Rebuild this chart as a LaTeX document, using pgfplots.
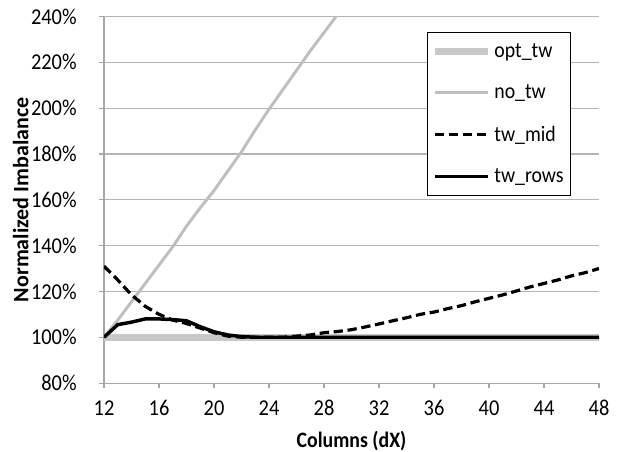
\documentclass[border=0pt]{standalone}
\usepackage{pgfplots}
\pgfplotsset{compat=1.18}
\usepackage{fontspec}
\setmainfont{Carlito}[FakeStretch=0.9]
\newfontfamily\ylabfont{Carlito}
\newcommand{\chartfont}{\fontsize{16.5}{19.8}\selectfont}
\newcommand{\tickfont}{\fontsize{17}{20}\selectfont}
\definecolor{optgray}{HTML}{C8C8C8}
\definecolor{nogray}{HTML}{BEBEBE}
\definecolor{gridgray}{HTML}{B4B4B4}
\definecolor{axgray}{HTML}{A6A6A6}
\begin{document}
\begin{tikzpicture}
\begin{axis}[
  scale only axis,
  width=371.25pt, height=274.9pt,
  xmin=12, xmax=48, ymin=80, ymax=240,
  xtick={12,16,...,48},
  ytick={80,100,...,240},
  axis lines*=left,
  axis line style={axgray, line width=0.8pt},
  tick style={axgray, line width=0.8pt},
  tick align=outside,
  major tick length=4pt,
  ymajorgrids,
  major grid style={gridgray, line width=0.8pt},
  xticklabel={\pgfmathparse{int(\tick)}\pgfmathresult},
  yticklabel={\pgfmathparse{int(\tick)}\pgfmathresult\%},
  tick label style={font=\tickfont},
  yticklabel style={xshift=-13pt},
  xticklabel style={yshift=-5.5pt},
  xlabel={\bfseries Columns (dX)},
  ylabel={\ylabfont\bfseries Normalized Imbalance},
  label style={font=\chartfont},
  xlabel style={yshift=-4.5pt},
  ylabel style={yshift=-5pt},
  legend cell align=left,
  legend style={at={(0.943,0.957)}, anchor=north east, draw=black,
    line width=0.6pt, fill=white, font=\chartfont, row sep=15pt,
    inner xsep=3pt, inner ysep=6pt, nodes={inner xsep=2pt}},
  legend image code/.code={\draw[#1] (0pt,0pt) -- (40pt,0pt);},
]
\addplot[optgray, line width=5.2pt, line cap=butt] coordinates {(12,100) (48,100)};
\addlegendentry{opt\_tw}
\addplot[nogray, line width=2.2pt] coordinates {
(12,100) (13,107.5) (14,115.5) (15,123.5) (16,131.5) (17,139.5) (18,148.5)
(19,156.5) (20,164) (21,172.5) (22,181) (23,190.5) (24,199.5) (25,208)
(26,216.5) (27,225) (28,233) (29,241)};
\addlegendentry{no\_tw}
\addplot[black, line width=2.4pt, dash pattern=on 7pt off 3.5pt] coordinates {
(12,131) (13,125) (14,118.5) (15,113.5) (16,110) (17,107.5) (18,106)
(19,104) (20,102) (21,100.5) (22,100) (23,100) (24,100) (25,100)
(26,100.5) (27,101) (28,102) (29,102.5) (30,103.3) (31,104.5) (32,105.8)
(33,107.2) (34,108.5) (35,110) (36,111) (37,112.5) (38,113.8) (39,115.5)
(40,117) (41,118.5) (42,120.2) (43,122) (44,123.5) (45,125) (46,126.8)
(47,128.2) (48,130)};
\addlegendentry{tw\_mid}
\addplot[black, line width=2.6pt] coordinates {
(12,100) (13,105.5) (14,106.6) (15,108) (16,108) (17,107.7) (18,107.2)
(19,104.6) (20,102.4) (21,101) (22,100.3) (23,100) (24,100) (28,100)
(32,100) (36,100) (40,100) (44,100) (48,100)};
\addlegendentry{tw\_rows}
\end{axis}
\pgfresetboundingbox
\path[use as bounding box]
  ([shift={(-78pt,-51pt)}]current axis.south west) rectangle
  ([shift={(22.5pt,12.4pt)}]current axis.north east);
\end{tikzpicture}
\end{document}
